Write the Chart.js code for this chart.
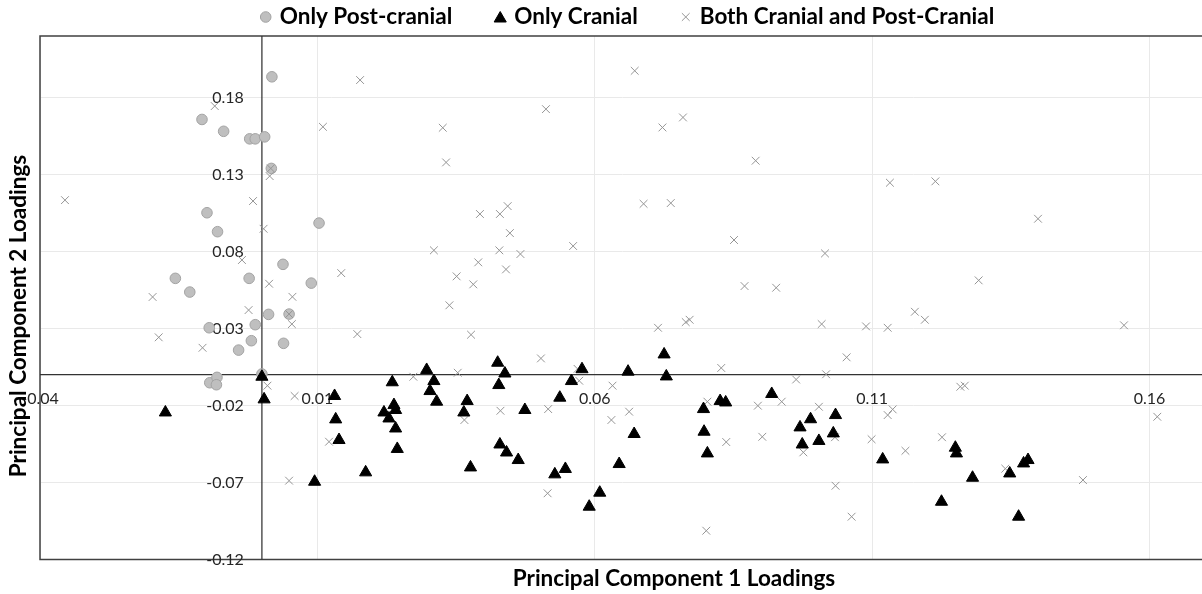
<!DOCTYPE html>
<html>
<head>
<meta charset="utf-8">
<title>PCA loadings</title>
<script src="https://cdn.jsdelivr.net/npm/chart.js@4.4.1/dist/chart.umd.min.js"></script>
<style>
  html, body { margin: 0; padding: 0; background: #fff; overflow: hidden; }
  #frame { width: 1202px; height: 594px; overflow: hidden; }
</style>
</head>
<body>
<div id="frame"><canvas id="loadings" width="1206" height="594"></canvas></div>
<script>
// PC1 / PC2 loadings, one [x, y] pair per variable
const postCranial = [
  [0.0018, 0.1935], [-0.0108, 0.1658], [-0.0069, 0.1581], [-0.0022, 0.1532],
  [-0.0012, 0.1532], [0.0005, 0.1545], [0.0017, 0.1340], [-0.0099, 0.1052],
  [-0.0080, 0.0929], [0.0103, 0.0985], [0.0038, 0.0717], [-0.0156, 0.0626],
  [-0.0023, 0.0626], [-0.0130, 0.0537], [0.0089, 0.0595], [0.0012, 0.0392],
  [0.0049, 0.0394], [-0.0012, 0.0325], [-0.0095, 0.0305], [-0.0019, 0.0221],
  [-0.0042, 0.0160], [0.0039, 0.0204], [-0.0094, -0.0052], [-0.0081, -0.0017],
  [-0.0082, -0.0065], [0.0000, 0.0005]
];

const cranial = [
  [0.0000, -0.0013], [0.0004, -0.0160], [-0.0174, -0.0245], [0.0131, -0.0138],
  [0.0133, -0.0290], [0.0139, -0.0424], [0.0095, -0.0695], [0.0187, -0.0634],
  [0.0235, -0.0049], [0.0238, -0.0197], [0.0220, -0.0245], [0.0229, -0.0284],
  [0.0241, -0.0229], [0.0241, -0.0349], [0.0244, -0.0482], [0.0297, 0.0031],
  [0.0303, -0.0106], [0.0310, -0.0041], [0.0315, -0.0175], [0.0370, -0.0171],
  [0.0364, -0.0245], [0.0376, -0.0602], [0.0425, 0.0078], [0.0438, 0.0008],
  [0.0427, -0.0067], [0.0474, -0.0229], [0.0429, -0.0453], [0.0441, -0.0505],
  [0.0462, -0.0554], [0.0537, -0.0149], [0.0558, -0.0041], [0.0577, 0.0036],
  [0.0528, -0.0647], [0.0547, -0.0612], [0.0609, -0.0766], [0.0590, -0.0857],
  [0.0644, -0.0580], [0.0671, -0.0385], [0.0660, 0.0020], [0.0725, 0.0132],
  [0.0729, -0.0011], [0.0796, -0.0223], [0.0797, -0.0370], [0.0803, -0.0511],
  [0.0826, -0.0171], [0.0836, -0.0180], [0.0919, -0.0125], [0.0970, -0.0342],
  [0.0989, -0.0289], [0.0974, -0.0453], [0.1004, -0.0430], [0.1034, -0.0262],
  [0.1030, -0.0381], [0.1119, -0.0550], [0.1250, -0.0474], [0.1252, -0.0511],
  [0.1225, -0.0825], [0.1281, -0.0669], [0.1348, -0.0641], [0.1373, -0.0576],
  [0.1381, -0.0554], [0.1364, -0.0922]
];

const both = [
  [0.0177, 0.1914], [-0.0085, 0.1745], [0.0110, 0.1610], [0.0016, 0.1340],
  [0.0014, 0.1290], [-0.0355, 0.1134], [-0.0016, 0.1128], [0.0003, 0.0948],
  [-0.0036, 0.0745], [0.0143, 0.0660], [0.0013, 0.0591], [-0.0197, 0.0505],
  [0.0055, 0.0506], [-0.0024, 0.0420], [0.0049, 0.0394], [0.0054, 0.0329],
  [0.0172, 0.0264], [-0.0186, 0.0243], [-0.0107, 0.0175], [0.0273, -0.0013],
  [0.0672, 0.1974], [0.0512, 0.1725], [0.0326, 0.1604], [0.0722, 0.1606],
  [0.0759, 0.1671], [0.0332, 0.1379], [0.0890, 0.1390], [0.0688, 0.1110],
  [0.0737, 0.1115], [0.0393, 0.1044], [0.0429, 0.1044], [0.0443, 0.1095],
  [0.0447, 0.0920], [0.0851, 0.0875], [0.0310, 0.0808], [0.0428, 0.0808],
  [0.0466, 0.0784], [0.0561, 0.0836], [0.0390, 0.0730], [0.0440, 0.0684],
  [0.0351, 0.0639], [0.0381, 0.0587], [0.0870, 0.0576], [0.0927, 0.0565],
  [0.0338, 0.0451], [0.0714, 0.0305], [0.0764, 0.0342], [0.0771, 0.0357],
  [0.0377, 0.0260], [0.0503, 0.0106], [0.0828, 0.0044], [0.1009, 0.0329],
  [0.0353, 0.0013], [0.0569, 0.0038], [0.0963, -0.0031], [0.1132, 0.1247],
  [0.1214, 0.1256], [0.1399, 0.1013], [0.1015, 0.0788], [0.1292, 0.0613],
  [0.1177, 0.0409], [0.1195, 0.0357], [0.1089, 0.0314], [0.1128, 0.0305],
  [0.1554, 0.0321], [0.1054, 0.0113], [0.1017, 0.0003], [0.0010, -0.0071],
  [0.0059, -0.0138], [0.0121, -0.0435], [0.0049, -0.0688], [0.0430, -0.0234],
  [0.0365, -0.0294], [0.0516, -0.0223], [0.0572, -0.0039], [0.0632, -0.0071],
  [0.0630, -0.0294], [0.0662, -0.0240], [0.0515, -0.0770], [0.0801, -0.1013],
  [0.0803, -0.0175], [0.0837, -0.0437], [0.0894, -0.0201], [0.0902, -0.0403],
  [0.0937, -0.0175], [0.0976, -0.0504], [0.1004, -0.0208], [0.1137, -0.0225],
  [0.1128, -0.0262], [0.1099, -0.0419], [0.1160, -0.0494], [0.1226, -0.0406],
  [0.1259, -0.0078], [0.1267, -0.0071], [0.1340, -0.0610], [0.1033, -0.0406],
  [0.1034, -0.0721], [0.1063, -0.0922], [0.1480, -0.0684], [0.1614, -0.0273]
];

const seriesNames = ['Only Post-cranial', 'Only Cranial', 'Both Cranial and Post-Cranial'];

const xTickValues = [-0.04, 0.01, 0.06, 0.11, 0.16];
const xTickLabels = ['-0.04', '0.01', '0.06', '0.11', '0.16'];
const yTickValues = [-0.12, -0.07, -0.02, 0.03, 0.08, 0.13, 0.18];
const yTickLabels = ['-0.12', '-0.07', '-0.02', '0.03', '0.08', '0.13', '0.18'];

const xTitle = 'Principal Component 1 Loadings';
const yTitle = 'Principal Component 2 Loadings';

const toPoints = rows => rows.map(([x, y]) => ({ x, y }));

const markerStyles = [
  { pointStyle: 'circle', radius: 5.3, borderWidth: 1, backgroundColor: '#bfbfbf', borderColor: '#a3a3a3' },
  { pointStyle: 'triangle', radius: 7, borderWidth: 1, backgroundColor: '#000', borderColor: '#000' },
  { pointStyle: 'crossRot', radius: 5.5, borderWidth: 1, backgroundColor: '#959595', borderColor: '#959595' }
];

const titleFont = 'bold 22.5px Lato';
const tickFont = '16px Lato';

// axes cross at the origin, labels sit next to them; frame on left, top and bottom
const originAxes = {
  id: 'originAxes',
  beforeDatasetsDraw(chart) {
    const { ctx, chartArea: a, scales: { x, y } } = chart;
    const x0 = x.getPixelForValue(0);
    const y0 = y.getPixelForValue(0);
    ctx.save();
    ctx.strokeStyle = '#404040';
    ctx.lineWidth = 1.5;
    ctx.beginPath();
    ctx.moveTo(a.right, a.top);
    ctx.lineTo(a.left, a.top);
    ctx.lineTo(a.left, a.bottom);
    ctx.lineTo(a.right, a.bottom);
    ctx.stroke();

    ctx.strokeStyle = '#333';
    ctx.lineWidth = 1.25;
    ctx.beginPath();
    ctx.moveTo(x0, a.top);
    ctx.lineTo(x0, a.bottom);
    ctx.moveTo(a.left, y0);
    ctx.lineTo(a.right, y0);
    ctx.stroke();

    ctx.fillStyle = '#262626';
    ctx.font = tickFont;
    ctx.textBaseline = 'middle';
    ctx.textAlign = 'right';
    yTickValues.forEach((v, i) => ctx.fillText(yTickLabels[i], x0 - 18, y.getPixelForValue(v)));
    ctx.textAlign = 'center';
    xTickValues.forEach((v, i) => ctx.fillText(xTickLabels[i], x.getPixelForValue(v), y0 + 24));
    ctx.restore();
  },
  afterDraw(chart) {
    const { ctx } = chart;
    ctx.save();
    ctx.fillStyle = '#000';
    ctx.font = titleFont;
    ctx.textAlign = 'center';
    ctx.textBaseline = 'middle';
    ctx.fillText(xTitle, 674, 579);
    ctx.translate(19, 316);
    ctx.rotate(-Math.PI / 2);
    ctx.fillText(yTitle, 0, 0);
    ctx.restore();

    // legend row across the top
    ctx.save();
    ctx.font = titleFont;
    ctx.textBaseline = 'middle';
    ctx.textAlign = 'left';
    const markerToText = 14;
    const itemGap = 48;
    const widths = seriesNames.map(n => ctx.measureText(n).width);
    const total = 6 + widths.reduce((s, w) => s + w + markerToText, 0) + itemGap * (seriesNames.length - 1);
    let cx = 627 - total / 2 + 6;
    const rowY = 17;
    seriesNames.forEach((name, i) => {
      const m = markerStyles[i];
      ctx.fillStyle = m.backgroundColor;
      ctx.strokeStyle = m.borderColor;
      ctx.lineWidth = m.borderWidth;
      Chart.helpers.drawPoint(ctx, { pointStyle: m.pointStyle, radius: m.radius, borderWidth: m.borderWidth, rotation: 0 }, cx, rowY + (m.pointStyle === 'triangle' ? 1.5 : 0));
      ctx.fillStyle = '#000';
      ctx.fillText(name, cx + markerToText, rowY);
      cx += markerToText + widths[i] + itemGap;
    });
    ctx.restore();
  }
};

const seriesData = [postCranial, cranial, both];
// circles underneath, crosses over them, triangles on top
const drawOrder = [3, 1, 2];

const datasets = seriesNames.map((name, i) => ({
  label: name,
  data: toPoints(seriesData[i]),
  order: drawOrder[i],
  pointStyle: markerStyles[i].pointStyle,
  pointRadius: markerStyles[i].radius,
  pointHoverRadius: markerStyles[i].radius,
  pointBorderWidth: markerStyles[i].borderWidth,
  pointBackgroundColor: markerStyles[i].backgroundColor,
  pointBorderColor: markerStyles[i].borderColor,
  showLine: false
}));

const gridOpts = { color: '#e9e9e9', lineWidth: 1, drawTicks: false };

new Chart(document.getElementById('loadings').getContext('2d'), {
  type: 'scatter',
  data: { datasets },
  options: {
    responsive: false,
    animation: false,
    layout: { autoPadding: false, padding: { left: 40, top: 36, right: 1, bottom: 34.5 } },
    plugins: { legend: { display: false }, tooltip: { enabled: false } },
    scales: {
      x: {
        type: 'linear', min: -0.04, max: 0.17,
        afterBuildTicks: s => { s.ticks = xTickValues.map(v => ({ value: v })); },
        ticks: { display: false },
        grid: gridOpts,
        border: { display: false }
      },
      y: {
        type: 'linear', min: -0.12, max: 0.22,
        afterBuildTicks: s => { s.ticks = yTickValues.map(v => ({ value: v })); },
        ticks: { display: false },
        grid: gridOpts,
        border: { display: false }
      }
    }
  },
  plugins: [originAxes]
});
</script>
</body>
</html>
